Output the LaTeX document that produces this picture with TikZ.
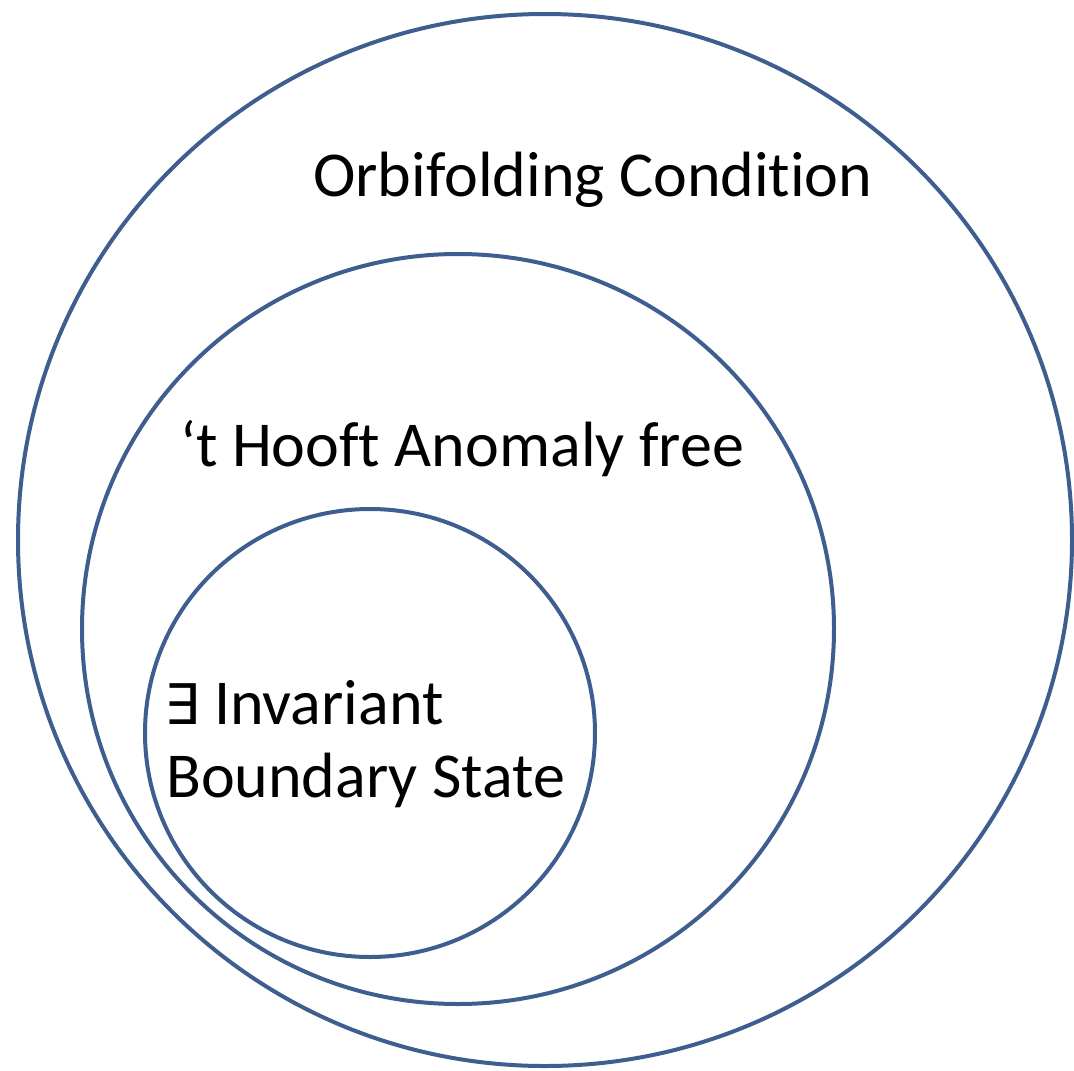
\documentclass[tikz,border=0pt]{standalone}
\usepackage{fontspec}
\setmainfont{Carlito}[Ligatures=NoCommon]
\newfontfamily\symfont{DejaVu Sans}
\definecolor{ringblue}{RGB}{62,94,143}
\begin{document}
\begin{tikzpicture}[x=1pt,y=-1pt,
  ring/.style={draw=ringblue,line width=4pt},
  label/.style={anchor=base west,inner sep=0pt,font=\fontsize{64}{73}\selectfont}]
\useasboundingbox (0,0) rectangle (1074,1071);
% nested sets
\draw[ring] (545,540) ellipse [x radius=527,y radius=526];
\draw[ring] (458,629) ellipse [x radius=376,y radius=375];
\draw[ring] (370,733) ellipse [x radius=225,y radius=224];
% labels
\node[label] (orb) at (313,196) {Orbifolding Condition};
\node[label] (hooft) at (180,466) {‘t Hooft Anomaly free};
\node[label] (inv) at (164,724) {{\symfont\fontsize{56}{60}\selectfont ∃} Invariant};
\node[label] (bs) at (166,797) {Boundary State};
\end{tikzpicture}
\end{document}
